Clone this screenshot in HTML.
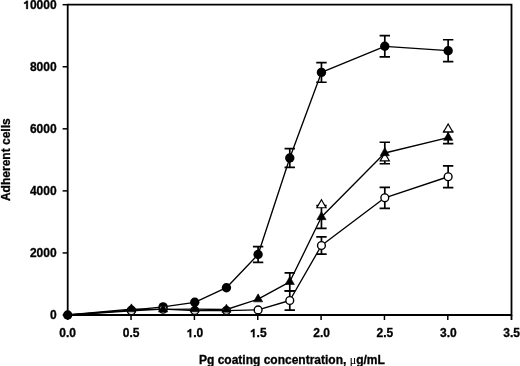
<!DOCTYPE html>
<html><head><meta charset="utf-8"><style>
html,body{margin:0;padding:0;background:#fff;}
svg{display:block;will-change:transform;}
path.g{fill:#000;stroke:#000;stroke-width:0.3px;vector-effect:non-scaling-stroke;}
text{font-family:"Liberation Sans",sans-serif;font-weight:bold;font-size:12px;fill:#000;stroke:#000;stroke-width:0.3px;}
</style></head><body>
<svg width="520" height="366" viewBox="0 0 520 366">
<path d="M67.70 4.7H511.5V315.0H67.70Z" fill="none" stroke="#000" stroke-width="1.8"/>
<path d="M62.6 315.00H67.70" stroke="#000" stroke-width="1.5"/>
<path d="M62.6 252.94H67.70" stroke="#000" stroke-width="1.5"/>
<path d="M62.6 190.88H67.70" stroke="#000" stroke-width="1.5"/>
<path d="M62.6 128.82H67.70" stroke="#000" stroke-width="1.5"/>
<path d="M62.6 66.76H67.70" stroke="#000" stroke-width="1.5"/>
<path d="M62.6 4.70H67.70" stroke="#000" stroke-width="1.5"/>
<path d="M67.70 315.0V320" stroke="#000" stroke-width="1.5"/>
<path d="M131.05 315.0V320" stroke="#000" stroke-width="1.5"/>
<path d="M194.40 315.0V320" stroke="#000" stroke-width="1.5"/>
<path d="M257.75 315.0V320" stroke="#000" stroke-width="1.5"/>
<path d="M321.10 315.0V320" stroke="#000" stroke-width="1.5"/>
<path d="M384.45 315.0V320" stroke="#000" stroke-width="1.5"/>
<path d="M447.80 315.0V320" stroke="#000" stroke-width="1.5"/>
<path d="M511.5 315.0V320" stroke="#000" stroke-width="1.8"/>
<text x="49.93" y="319.25">0</text><text x="29.90" y="257.19">2000</text><text x="29.90" y="195.13">4000</text><text x="29.90" y="133.07">6000</text><text x="29.90" y="71.01">8000</text><path class="g" transform="translate(23.23 8.95) scale(0.005859 -0.005859)" d="M790 0H515V1030Q365 890 160 850V1100Q268 1136 394 1224Q520 1312 567 1409H790Z"/><text x="29.90" y="8.95">0000</text>
<text x="59.36" y="337.20">0.0</text><text x="122.71" y="337.20">0.5</text><path class="g" transform="translate(186.56 337.20) scale(0.005859 -0.005859)" d="M790 0H515V1030Q365 890 160 850V1100Q268 1136 394 1224Q520 1312 567 1409H790Z"/><text x="193.23" y="337.20">.0</text><path class="g" transform="translate(249.91 337.20) scale(0.005859 -0.005859)" d="M790 0H515V1030Q365 890 160 850V1100Q268 1136 394 1224Q520 1312 567 1409H790Z"/><text x="256.58" y="337.20">.5</text><text x="313.26" y="337.20">2.0</text><text x="376.61" y="337.20">2.5</text><text x="439.96" y="337.20">3.0</text><text x="503.31" y="337.20">3.5</text>
<polyline points="67.70,315.00 131.40,310.20 163.08,306.90 194.75,302.30 226.42,287.70 258.10,254.50 289.78,158.00 321.45,72.40 384.80,46.30 448.15,50.70" fill="none" stroke="#000" stroke-width="1.35" stroke-linejoin="round"/>
<polyline points="67.70,315.00 131.40,309.20 163.08,309.30 194.75,309.10 226.42,309.50 258.10,299.20 289.78,281.80 321.45,217.00 384.80,153.00 448.15,137.70" fill="none" stroke="#000" stroke-width="1.35" stroke-linejoin="round"/>
<polyline points="67.70,315.00 131.40,310.80 163.08,309.20 194.75,310.60 226.42,310.60 258.10,309.90 289.78,300.50 321.45,245.50 384.80,197.80 448.15,176.75" fill="none" stroke="#000" stroke-width="1.35" stroke-linejoin="round"/>
<path d="M258.10 246.70V262.30M252.90 246.70H263.30M252.90 262.30H263.30" stroke="#000" stroke-width="1.7" fill="none"/>
<path d="M289.78 148.60V167.40M284.58 148.60H294.98M284.58 167.40H294.98" stroke="#000" stroke-width="1.7" fill="none"/>
<path d="M321.45 62.55V82.25M316.25 62.55H326.65M316.25 82.25H326.65" stroke="#000" stroke-width="1.7" fill="none"/>
<path d="M384.80 35.65V56.95M379.60 35.65H390.00M379.60 56.95H390.00" stroke="#000" stroke-width="1.7" fill="none"/>
<path d="M448.15 39.75V61.65M442.95 39.75H453.35M442.95 61.65H453.35" stroke="#000" stroke-width="1.7" fill="none"/>
<path d="M289.78 272.80V290.80M284.58 272.80H294.98M284.58 290.80H294.98" stroke="#000" stroke-width="1.7" fill="none"/>
<path d="M321.45 205.65V228.35M316.25 205.65H326.65M316.25 228.35H326.65" stroke="#000" stroke-width="1.7" fill="none"/>
<path d="M384.80 142.25V163.75M379.60 142.25H390.00M379.60 163.75H390.00" stroke="#000" stroke-width="1.7" fill="none"/>
<path d="M448.15 131.70V143.70M442.95 131.70H453.35M442.95 143.70H453.35" stroke="#000" stroke-width="1.7" fill="none"/>
<path d="M289.78 290.80V310.20M284.58 290.80H294.98M284.58 310.20H294.98" stroke="#000" stroke-width="1.7" fill="none"/>
<path d="M321.45 236.95V254.05M316.25 236.95H326.65M316.25 254.05H326.65" stroke="#000" stroke-width="1.7" fill="none"/>
<path d="M384.80 187.30V208.30M379.60 187.30H390.00M379.60 208.30H390.00" stroke="#000" stroke-width="1.7" fill="none"/>
<path d="M448.15 165.90V187.60M442.95 165.90H453.35M442.95 187.60H453.35" stroke="#000" stroke-width="1.7" fill="none"/>
<circle cx="67.70" cy="315.00" r="4.7" fill="#000"/>
<circle cx="131.40" cy="310.20" r="4.7" fill="#000"/>
<circle cx="163.08" cy="306.90" r="4.7" fill="#000"/>
<circle cx="194.75" cy="302.30" r="4.7" fill="#000"/>
<circle cx="226.42" cy="287.70" r="4.7" fill="#000"/>
<circle cx="258.10" cy="254.50" r="4.7" fill="#000"/>
<circle cx="289.78" cy="158.00" r="4.7" fill="#000"/>
<circle cx="321.45" cy="72.40" r="4.7" fill="#000"/>
<circle cx="384.80" cy="46.30" r="4.7" fill="#000"/>
<circle cx="448.15" cy="50.70" r="4.7" fill="#000"/>
<circle cx="131.40" cy="310.80" r="3.9" fill="#fff" stroke="#000" stroke-width="1.4"/>
<circle cx="163.08" cy="309.20" r="3.9" fill="#fff" stroke="#000" stroke-width="1.4"/>
<circle cx="194.75" cy="310.60" r="3.9" fill="#fff" stroke="#000" stroke-width="1.4"/>
<circle cx="226.42" cy="310.60" r="3.9" fill="#fff" stroke="#000" stroke-width="1.4"/>
<circle cx="258.10" cy="309.90" r="3.9" fill="#fff" stroke="#000" stroke-width="1.4"/>
<circle cx="289.78" cy="300.50" r="3.9" fill="#fff" stroke="#000" stroke-width="1.4"/>
<circle cx="321.45" cy="245.50" r="3.9" fill="#fff" stroke="#000" stroke-width="1.4"/>
<circle cx="384.80" cy="197.80" r="3.9" fill="#fff" stroke="#000" stroke-width="1.4"/>
<circle cx="448.15" cy="176.75" r="3.9" fill="#fff" stroke="#000" stroke-width="1.4"/>
<path d="M321.45 199.77L326.05 207.77L316.85 207.77Z" fill="#fff" stroke="#000" stroke-width="1.2" stroke-linejoin="miter"/>
<path d="M384.80 152.97L389.40 160.97L380.20 160.97Z" fill="#fff" stroke="#000" stroke-width="1.2" stroke-linejoin="miter"/>
<path d="M448.15 123.97L452.75 131.97L443.55 131.97Z" fill="#fff" stroke="#000" stroke-width="1.2" stroke-linejoin="miter"/>
<path d="M131.40 303.87L136.00 311.87L126.80 311.87Z" fill="#000" stroke="#000" stroke-width="0.6" stroke-linejoin="miter"/>
<path d="M163.08 303.97L167.68 311.97L158.48 311.97Z" fill="#000" stroke="#000" stroke-width="0.6" stroke-linejoin="miter"/>
<path d="M194.75 303.77L199.35 311.77L190.15 311.77Z" fill="#000" stroke="#000" stroke-width="0.6" stroke-linejoin="miter"/>
<path d="M226.42 304.17L231.02 312.17L221.82 312.17Z" fill="#000" stroke="#000" stroke-width="0.6" stroke-linejoin="miter"/>
<path d="M258.10 293.87L262.70 301.87L253.50 301.87Z" fill="#000" stroke="#000" stroke-width="0.6" stroke-linejoin="miter"/>
<path d="M289.78 276.47L294.38 284.47L285.18 284.47Z" fill="#000" stroke="#000" stroke-width="0.6" stroke-linejoin="miter"/>
<path d="M321.45 211.67L326.05 219.67L316.85 219.67Z" fill="#000" stroke="#000" stroke-width="0.6" stroke-linejoin="miter"/>
<path d="M384.80 147.67L389.40 155.67L380.20 155.67Z" fill="#000" stroke="#000" stroke-width="0.6" stroke-linejoin="miter"/>
<path d="M448.15 132.37L452.75 140.37L443.55 140.37Z" fill="#000" stroke="#000" stroke-width="0.6" stroke-linejoin="miter"/>
<text x="199" y="363.8">Pg coating concentration, <tspan font-family="Liberation Serif" font-weight="normal" stroke-width="0.1">&#956;</tspan>g/mL</text>
<text transform="translate(9.8 159.7) rotate(-90)" text-anchor="middle">Adherent cells</text>
</svg>
</body></html>
